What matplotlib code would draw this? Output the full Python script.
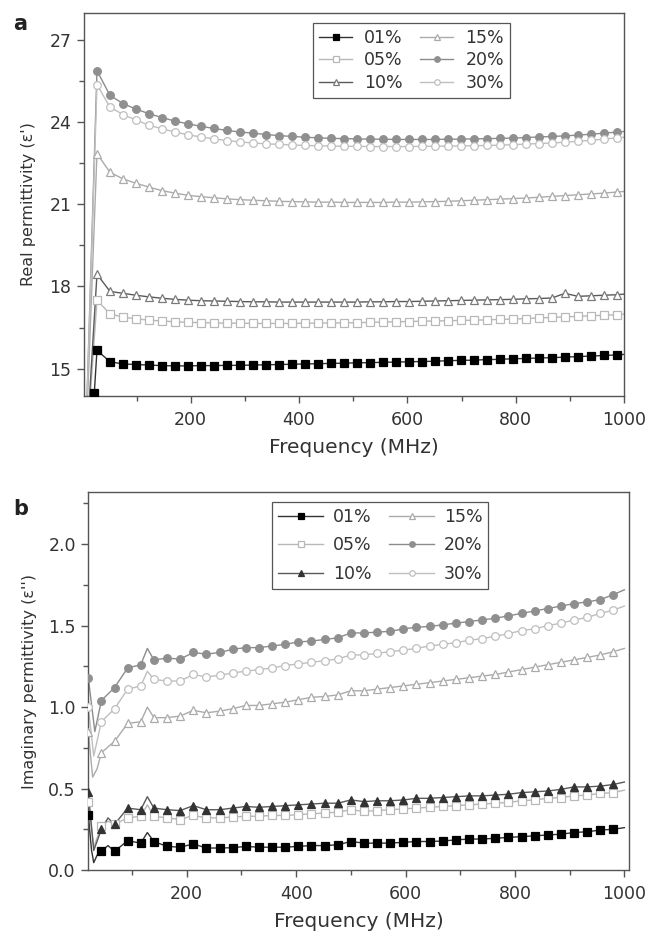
import numpy as np
import matplotlib
matplotlib.use("Agg")
from matplotlib import pyplot as plt
from matplotlib import ticker
from matplotlib.lines import Line2D

plt.rcParams['font.family'] = ['DejaVu Sans']

labels = ["01%", "05%", "10%", "15%", "20%", "30%"]

# ---- panel a: real permittivity, markers every 24 MHz ----
freq_a = np.arange(27, 1000, 24)

real_01 = [15.67, 15.25, 15.17, 15.15, 15.13, 15.11, 15.10, 15.10, 15.11, 15.11,
           15.12, 15.12, 15.13, 15.14, 15.15, 15.16, 15.17, 15.18, 15.19, 15.20,
           15.21, 15.22, 15.23, 15.24, 15.25, 15.26, 15.27, 15.29, 15.30, 15.31,
           15.33, 15.34, 15.36, 15.37, 15.39, 15.40, 15.42, 15.44, 15.46, 15.48, 15.50]
real_05 = [17.50, 17.00, 16.88, 16.82, 16.77, 16.74, 16.71, 16.69, 16.68, 16.67,
           16.66, 16.66, 16.65, 16.65, 16.65, 16.65, 16.66, 16.66, 16.67, 16.67,
           16.68, 16.69, 16.70, 16.71, 16.72, 16.73, 16.74, 16.75, 16.76, 16.77,
           16.78, 16.80, 16.81, 16.83, 16.85, 16.87, 16.89, 16.91, 16.93, 16.95, 16.97]
real_10 = [18.45, 17.82, 17.75, 17.68, 17.62, 17.57, 17.53, 17.50, 17.48, 17.47,
           17.46, 17.45, 17.44, 17.44, 17.43, 17.43, 17.43, 17.43, 17.43, 17.43,
           17.43, 17.44, 17.44, 17.45, 17.45, 17.46, 17.47, 17.48, 17.49, 17.50,
           17.51, 17.52, 17.53, 17.55, 17.56, 17.58, 17.75, 17.64, 17.66, 17.68, 17.70]
real_15 = [22.85, 22.17, 21.93, 21.77, 21.63, 21.50, 21.41, 21.33, 21.28, 21.24,
           21.20, 21.17, 21.15, 21.13, 21.11, 21.10, 21.09, 21.08, 21.08, 21.07,
           21.07, 21.07, 21.07, 21.08, 21.08, 21.09, 21.10, 21.11, 21.13, 21.15,
           21.17, 21.19, 21.21, 21.23, 21.26, 21.29, 21.32, 21.35, 21.38, 21.41, 21.45]
real_20 = [25.88, 24.98, 24.68, 24.48, 24.31, 24.17, 24.04, 23.94, 23.85, 23.77,
           23.70, 23.64, 23.60, 23.55, 23.51, 23.48, 23.45, 23.43, 23.41, 23.40,
           23.39, 23.38, 23.38, 23.37, 23.37, 23.37, 23.37, 23.38, 23.38, 23.39,
           23.40, 23.41, 23.42, 23.44, 23.46, 23.48, 23.50, 23.53, 23.56, 23.60, 23.64]
real_30 = [25.37, 24.55, 24.28, 24.08, 23.89, 23.76, 23.64, 23.54, 23.46, 23.39,
           23.33, 23.28, 23.24, 23.21, 23.19, 23.17, 23.15, 23.14, 23.13, 23.12,
           23.12, 23.11, 23.11, 23.11, 23.11, 23.12, 23.12, 23.13, 23.13, 23.14,
           23.15, 23.16, 23.18, 23.20, 23.22, 23.24, 23.27, 23.30, 23.34, 23.38, 23.43]

# extra points of the measured curves: (freq, value, has_marker)
extra_a = {
    "01%": [(4, 11.0, False), (22, 14.1, True), (1000, 15.52, False)],
    "05%": [(4, 11.0, False), (1000, 16.99, False)],
    "10%": [(4, 11.0, False), (1000, 17.72, False)],
    "15%": [(4, 11.0, False), (1000, 21.47, False)],
    "20%": [(4, 11.0, False), (1000, 23.66, False)],
    "30%": [(4, 11.0, False), (1000, 23.45, False)],
}

# ---- panel b: imaginary permittivity, markers every 24 MHz ----
freq_b = np.arange(20, 1000, 24)

imag_01 = [0.34, 0.115, 0.115, 0.18, 0.165, 0.175, 0.145, 0.14, 0.16, 0.135,
           0.135, 0.137, 0.145, 0.14, 0.14, 0.14, 0.145, 0.15, 0.15, 0.155,
           0.175, 0.165, 0.165, 0.165, 0.17, 0.175, 0.175, 0.178, 0.185, 0.19,
           0.19, 0.195, 0.20, 0.205, 0.21, 0.215, 0.22, 0.23, 0.235, 0.245, 0.25]
imag_05 = [0.42, 0.27, 0.28, 0.32, 0.33, 0.33, 0.32, 0.31, 0.335, 0.32,
           0.32, 0.325, 0.33, 0.33, 0.335, 0.335, 0.34, 0.345, 0.35, 0.355,
           0.37, 0.36, 0.365, 0.37, 0.375, 0.38, 0.385, 0.39, 0.395, 0.40,
           0.405, 0.41, 0.415, 0.425, 0.43, 0.44, 0.445, 0.455, 0.46, 0.47, 0.475]
imag_10 = [0.48, 0.25, 0.28, 0.38, 0.37, 0.38, 0.37, 0.365, 0.395, 0.37,
           0.37, 0.38, 0.39, 0.385, 0.39, 0.395, 0.40, 0.405, 0.41, 0.41,
           0.43, 0.42, 0.425, 0.425, 0.43, 0.44, 0.44, 0.445, 0.45, 0.455,
           0.455, 0.46, 0.465, 0.475, 0.48, 0.485, 0.495, 0.51, 0.51, 0.515, 0.525]
imag_15 = [0.85, 0.72, 0.79, 0.90, 0.91, 0.935, 0.935, 0.945, 0.98, 0.965,
           0.975, 0.99, 1.01, 1.01, 1.02, 1.03, 1.045, 1.06, 1.065, 1.075,
           1.10, 1.10, 1.11, 1.12, 1.13, 1.14, 1.15, 1.16, 1.17, 1.18,
           1.19, 1.20, 1.215, 1.23, 1.245, 1.26, 1.275, 1.29, 1.305, 1.32, 1.34]
imag_20 = [1.18, 1.04, 1.12, 1.24, 1.26, 1.29, 1.30, 1.295, 1.335, 1.325,
           1.335, 1.355, 1.365, 1.365, 1.375, 1.385, 1.40, 1.405, 1.415, 1.425,
           1.455, 1.455, 1.46, 1.465, 1.48, 1.49, 1.495, 1.505, 1.515, 1.525,
           1.535, 1.545, 1.56, 1.575, 1.59, 1.605, 1.62, 1.635, 1.645, 1.66, 1.69]
imag_30 = [1.00, 0.91, 0.99, 1.11, 1.13, 1.17, 1.16, 1.16, 1.20, 1.185,
           1.195, 1.21, 1.22, 1.23, 1.24, 1.255, 1.265, 1.275, 1.285, 1.295,
           1.32, 1.32, 1.33, 1.34, 1.35, 1.36, 1.375, 1.385, 1.395, 1.41,
           1.42, 1.435, 1.45, 1.47, 1.48, 1.50, 1.515, 1.535, 1.55, 1.575, 1.595]

# noisy bits of the measured curves between markers (line only)
extra_b = {
    "01%": [(26, 0.12, False), (30, 0.045, False), (36, 0.09, False), (56, 0.15, False),
            (128, 0.23, False), (1000, 0.26, False)],
    "05%": [(30, 0.14, False), (56, 0.30, False), (128, 0.40, False), (1000, 0.49, False)],
    "10%": [(30, 0.12, False), (56, 0.32, False), (128, 0.45, False), (1000, 0.54, False)],
    "15%": [(28, 0.57, False), (36, 0.62, False), (128, 1.00, False), (1000, 1.36, False)],
    "20%": [(32, 0.85, False), (128, 1.36, False), (1000, 1.72, False)],
    "30%": [(30, 0.70, False), (128, 1.22, False), (1000, 1.62, False)],
}

styles_a = {
    "01%": dict(color="#333333", marker="s", mfc="black", mec="black"),
    "05%": dict(color="#b8b8b8", marker="s", mfc="white", mec="#b8b8b8"),
    "10%": dict(color="#5a5a5a", marker="^", mfc="white", mec="#7a7a7a"),
    "15%": dict(color="#ababab", marker="^", mfc="white", mec="#ababab"),
    "20%": dict(color="#8c8c8c", marker="o", mfc="#8f8f8f", mec="#8f8f8f"),
    "30%": dict(color="#bfbfbf", marker="o", mfc="white", mec="#bfbfbf"),
}
styles_b = dict(styles_a)
styles_b["10%"] = dict(color="#5a5a5a", marker="^", mfc="#333333", mec="#333333")


def draw(ax, freq, series, extras, styles):
    handles = []
    for lab, vals in zip(labels, series):
        st = styles[lab]
        xs = list(freq) + [p[0] for p in extras[lab]]
        ys = list(vals) + [p[1] for p in extras[lab]]
        order = np.argsort(xs)
        ax.plot(np.array(xs)[order], np.array(ys)[order], color=st["color"], lw=1.0, zorder=2)
        mx = list(freq) + [p[0] for p in extras[lab] if p[2]]
        my = list(vals) + [p[1] for p in extras[lab] if p[2]]
        ax.plot(mx, my, ls="none", marker=st["marker"], ms=5.5,
                mfc=st["mfc"], mec=st["mec"], mew=0.9, zorder=3)
        handles.append(Line2D([], [], color=st["color"], lw=1.0, marker=st["marker"], ms=4,
                              mfc=st["mfc"], mec=st["mec"], mew=0.9, label=lab))
    return handles


def style_axes(ax):
    for s in ax.spines.values():
        s.set_color("#555555")
        s.set_linewidth(1.0)
    ax.tick_params(which="both", direction="out", colors="#555555", labelcolor="#333333",
                   labelsize=12.5, top=False, right=False)
    ax.tick_params(which="major", length=5, width=1.0)
    ax.tick_params(which="minor", length=3.5, width=1.0)
    ax.tick_params(axis="x", pad=6)
    ax.tick_params(axis="y", pad=4)
    ax.xaxis.set_major_locator(ticker.MultipleLocator(200))
    ax.xaxis.set_minor_locator(ticker.MultipleLocator(100))


def make_legend(ax, handles, anchor, hlen, tpad, lspace):
    leg = ax.legend(handles=handles, ncol=2, loc="upper left", bbox_to_anchor=anchor,
                    borderaxespad=0, fontsize=12.5, handlelength=hlen, handletextpad=tpad,
                    columnspacing=1.0, labelspacing=lspace, borderpad=0.35, fancybox=False,
                    framealpha=1, edgecolor="#555555", numpoints=1)
    leg.get_frame().set_linewidth(0.9)
    for t in leg.get_texts():
        t.set_color("#333333")
    return leg


fig = plt.figure(figsize=(6.5, 9.32), dpi=100)

# panel a
ax1 = fig.add_axes([0.1292, 0.5751, 0.8308, 0.4113])
h1 = draw(ax1, freq_a, [real_01, real_05, real_10, real_15, real_20, real_30],
          extra_a, styles_a)
ax1.set_xlim(3, 1000)
ax1.set_ylim(14, 28)
ax1.yaxis.set_major_locator(ticker.MultipleLocator(3))
ax1.yaxis.set_minor_locator(ticker.MultipleLocator(1.5))
style_axes(ax1)
ax1.set_xlabel("Frequency (MHz)", fontsize=14.5, color="#333333")
ax1.xaxis.set_label_coords(0.5, -0.11)
ax1.set_ylabel("Real permittivity (ε')", fontsize=11.5, color="#333333")
ax1.yaxis.set_label_coords(-0.088, 0.5)
make_legend(ax1, h1, (0.424, 0.973), 1.9, 0.7, 0.25)
fig.text(0.02, 0.968, "a", fontsize=15, fontweight="bold", color="#222222")

# panel b
ax2 = fig.add_axes([0.1358, 0.0665, 0.8323, 0.4056])
h2 = draw(ax2, freq_b, [imag_01, imag_05, imag_10, imag_15, imag_20, imag_30],
          extra_b, styles_b)
ax2.set_xlim(20, 1009)
ax2.set_ylim(0, 2.32)
ax2.yaxis.set_major_locator(ticker.MultipleLocator(0.5))
ax2.yaxis.set_minor_locator(ticker.MultipleLocator(0.25))
ax2.yaxis.set_major_formatter(ticker.FormatStrFormatter("%.1f"))
style_axes(ax2)
ax2.set_xlabel("Frequency (MHz)", fontsize=14.5, color="#333333")
ax2.xaxis.set_label_coords(0.5, -0.11)
ax2.set_ylabel("Imaginary permittivity (ε'')", fontsize=11.5, color="#333333")
ax2.yaxis.set_label_coords(-0.095, 0.5)
make_legend(ax2, h2, (0.34, 0.974), 2.6, 0.55, 0.6)
fig.text(0.02, 0.447, "b", fontsize=15, fontweight="bold", color="#222222")

fig.savefig("out.png", dpi=100)
